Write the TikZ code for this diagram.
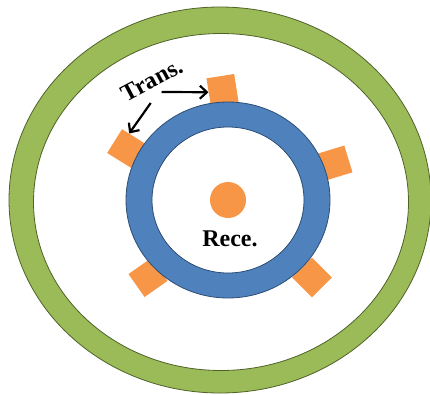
\documentclass[tikz,border=0pt]{standalone}
\usepackage{fontspec}
\setmainfont{Liberation Serif}
\usetikzlibrary{arrows.meta,calc}
\definecolor{ringgreen}{HTML}{9BBB59}
\definecolor{ringgreenedge}{HTML}{4F6228}
\definecolor{ringblue}{HTML}{4F81BD}
\definecolor{ringblueedge}{HTML}{2C4D75}
\definecolor{orangec}{HTML}{F79646}
\begin{document}
\begin{tikzpicture}[x=1pt,y=1pt,
  sq/.style={rectangle,fill=orangec,minimum size=28pt,inner sep=0pt},
  lbl/.style={font=\fontsize{24}{28}\selectfont\bfseries,inner sep=0pt},
  arr/.style={line width=2.2pt,-{Straight Barb[length=7pt,width=13pt]}}]
\useasboundingbox (0,0) rectangle (430,-394);
% outer green ring
\fill[ringgreen,even odd rule] (220,-200) ellipse [x radius=211,y radius=193]
  (221,-202) ellipse [x radius=187.5,y radius=168.5];
\draw[ringgreenedge,line width=0.8pt] (220,-200) ellipse [x radius=211,y radius=193];
\draw[ringgreenedge,line width=0.8pt] (221,-202) ellipse [x radius=187.5,y radius=168.5];
% transmitters
\node[sq,rotate=9] (t1) at (222.5,-90) {};
\node[sq,rotate=-32] (t2) at (126.5,-148.5) {};
\node[sq,rotate=17] (t3) at (335,-163) {};
\node[sq,rotate=35] (t4) at (148,-277.5) {};
\node[sq,rotate=45] (t5) at (312,-277.5) {};
% blue ring
\fill[ringblue,even odd rule] (228,-200) ellipse [x radius=102,y radius=98]
  (228,-200) ellipse [x radius=76,y radius=73];
\draw[ringblueedge,line width=0.8pt] (228,-200) ellipse [x radius=102,y radius=98];
\draw[ringblueedge,line width=0.8pt] (228,-200) ellipse [x radius=76,y radius=73];
% receiver
\node[circle,fill=orangec,minimum size=36pt,inner sep=0pt] (rx) at (228,-200) {};
\node[lbl] (rece) at (230,-239) {Rece.};
\node[lbl,rotate=28] (trans) at (152,-80) {Trans.};
% arrows
\coordinate (a1) at (161.5,-92);
\coordinate (a2) at (150.7,-103);
\draw[arr] (a1) -- (t1.west);
\draw[arr] (a2) -- ($(t2.north west)!0.3!(t2.north east)$);
\end{tikzpicture}
\end{document}
